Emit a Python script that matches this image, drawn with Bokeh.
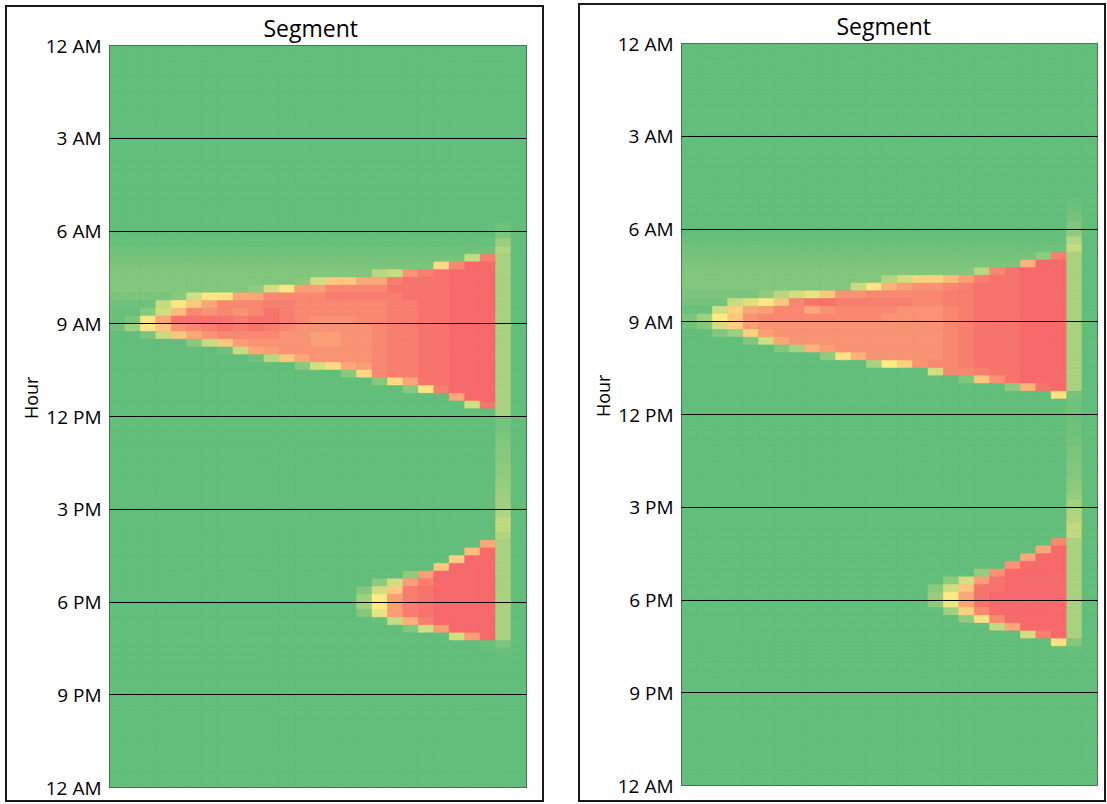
from bokeh.plotting import figure
from bokeh.models import Range1d, FixedTicker, LinearColorMapper, ColumnDataSource, Spacer
from bokeh.layouts import row, column
from bokeh.transform import transform
from bokeh.embed import file_html
from bokeh.resources import INLINE

# ---------------- data ----------------
N_COLS = 27          # segments
N_ROWS = 96          # 15-minute slots in a day
HOUR_TICKS = [0, 3, 6, 9, 12, 15, 18, 21, 24]
HOUR_LABELS = ["12 AM", "3 AM", "6 AM", "9 AM", "12 PM", "3 PM", "6 PM", "9 PM", "12 AM"]
Y_TITLE = "Hour"
X_TITLE = "Segment"

# cell levels: '.' = 0, 'A'..'Y' = 4..100 (step 4), lowercase = uppercase - 2
# rows not listed are all 0
LEFT_CELLS = {
    23: "." * 25 + "A.",
    24: "." * 25 + "B.",
    25: "a" * 25 + "e.",
    26: "A" * 25 + "g.",
    27: "b" * 23 + "HWf.",
    28: "B" * 21 + "NVYYf.",
    29: "c" * 17 + "GHUWXYYYf.",
    30: "c" * 12 + "CIPPSSWXXXYYYf.",
    31: "c" * 9 + "dIMTTVVVVXXXXYYYf.",
    32: "BBBB" + "CIMMSSVVVVWWWWWXXXYYYf.",
    33: "AAA" + "HMPSVVVWWVVVVVVWWXXYYYf.",
    34: "aa" + "CIQVUVUVXWVVVVVVWWXXYYYf.",
    35: "aBMSXXXXWXXWVUUUVVWWXXYYYf.",
    36: "AELPUVWXWXWVUUUUUVWWXXYYYf.",
    37: "..BHPSUVVVVUUTTUUVWWXXYYYf.",
    38: "." * 5 + "CHPTUUUUTTUUVWWXXYYYf.",
    39: "." * 7 + "AHSTUUUUUUVWWXXYYYf.",
    40: "." * 9 + "AGPSUUUUVWWXXYYYf.",
    41: "." * 12 + "CINSTVWWXXYYYf.",
    42: "." * 15 + "CNVWWXXYYYf.",
    43: "." * 17 + "CNSXXYYYf.",
    44: "." * 19 + "CMWYYYf.",
    45: "." * 22 + "SYYf.",
    46: "." * 23 + "IXf.",
    47: "." * 25 + "f.",
    48: "." * 25 + "b.",
    49: "." * 25 + "b.",
    50: "." * 25 + "B.",
    51: "." * 25 + "c.",
    52: "." * 25 + "C.",
    53: "." * 25 + "C.",
    54: "." * 25 + "d.",
    55: "." * 25 + "d.",
    56: "." * 25 + "D.",
    57: "." * 25 + "e.",
    58: "." * 25 + "E.",
    59: "." * 25 + "E.",
    60: "." * 25 + "F.",
    61: "." * 25 + "h.",
    62: "." * 25 + "h.",
    63: "." * 25 + "g.",
    64: "." * 24 + "Sf.",
    65: "." * 23 + "QYf.",
    66: "." * 22 + "OYYf.",
    67: "." * 21 + "PYYYf.",
    68: "." * 19 + "dTYYYYf.",
    69: "." * 17 + "dITWYYYYf.",
    70: "." * 16 + "cIPWXYYYYf.",
    71: "." * 16 + "EmTWXYYYYf.",
    72: "." * 16 + "EmTWXYYYYf.",
    73: "." * 16 + "ckTWXYYYYf.",
    74: "." * 17 + "aHRWYYYYf.",
    75: "." * 19 + "cITYYYf.",
    76: "." * 22 + "ITYf.",
    77: "." * 24 + "aB.",
    78: "." * 25 + "a.",
}

RIGHT_CELLS = {
    20: "." * 25 + "a.",
    21: "." * 25 + "A.",
    22: "." * 25 + "b.",
    23: "." * 25 + "c.",
    24: "." * 25 + "d.",
    25: "a" * 25 + "g.",
    26: "A" * 25 + "H.",
    27: "b" * 23 + "dWf.",
    28: "B" * 21 + "BRYYf.",
    29: "c" * 18 + "cGVXYYYf.",
    30: "c" * 12 + "cgIOOQTWXXYYYf.",
    31: "c" * 11 + "HMRTUUVWXXXYYYf.",
    32: "B" * 5 + "dGIkPUUVVVVVWWXXXYYYf.",
    33: "b" * 3 + "HJmPVXXWWWWWVVWWXXXYYYf.",
    34: "aa" + "IOSTVVSUVVVVUUUVWXXXYYYf.",
    35: "B" + "EmPUVVVVVVVVUUUUVWXXXYYYf.",
    36: "A" + "cIOTUUUUUUUUUUUUVWXXXYYYf.",
    37: ".." + "ceOTUUUUUUUUUUUVWXXXYYYf.",
    38: "...." + "cISUUUUUUUUUUVWXXXYYYf.",
    39: "." * 6 + "cfRTUUUUUUUVWXXXYYYf.",
    40: "." * 9 + "dnRUUUUUVWXXXYYYf.",
    41: "." * 12 + "fmOUVVWXXXYYYf.",
    42: "." * 16 + "IVVWXXYYYf.",
    43: "." * 18 + "cPUXYYYf.",
    44: "." * 21 + "dRXYf.",
    45: "." * 24 + "nb.",
    46: "." * 25 + "A.",
    47: "." * 25 + "A.",
    48: "." * 25 + "a.",
    49: "." * 25 + "A.",
    50: "." * 25 + "A.",
    51: "." * 25 + "b.",
    52: "." * 25 + "B.",
    53: "." * 25 + "B.",
    54: "." * 25 + "c.",
    55: "." * 25 + "c.",
    56: "." * 25 + "C.",
    57: "." * 25 + "d.",
    58: "." * 25 + "D.",
    59: "." * 25 + "E.",
    60: "." * 25 + "F.",
    61: "." * 25 + "g.",
    62: "." * 25 + "h.",
    63: "." * 25 + "h.",
    64: "." * 24 + "Vf.",
    65: "." * 23 + "SYf.",
    66: "." * 22 + "SYYf.",
    67: "." * 21 + "UYYYf.",
    68: "." * 19 + "DUYYYYf.",
    69: "." * 17 + "dITXYYYYf.",
    70: "." * 16 + "CIPXXYYYYf.",
    71: "." * 16 + "emSXYYYYYf.",
    72: "." * 16 + "CKSXYYYYYf.",
    73: "." * 17 + "EOVYYYYYf.",
    74: "." * 18 + "dnVYYYYf.",
    75: "." * 20 + "hSYYYf.",
    76: "." * 22 + "IWYf.",
    77: "." * 24 + "nc.",
    78: "." * 25 + "a.",
}

# 3-colour scale anchors (low / mid / high)
LOW_RGB = (0x63, 0xBE, 0x7B)
MID_RGB = (0xFF, 0xEB, 0x84)
HIGH_RGB = (0xF8, 0x69, 0x6B)


def cell_value(ch):
    if ch == ".":
        return 0.0
    if ch.isupper():
        return (ord(ch) - 64) * 4.0
    return (ord(ch) - 96) * 4.0 - 2.0


def mix(a, b, t):
    return tuple(int(round(a[i] + (b[i] - a[i]) * t)) for i in range(3))


palette = []
for i in range(101):
    if i <= 50:
        rgb = mix(LOW_RGB, MID_RGB, i / 50.0)
    else:
        rgb = mix(MID_RGB, HIGH_RGB, (i - 50) / 50.0)
    palette.append("#%02x%02x%02x" % rgb)

mapper = LinearColorMapper(palette=palette, low=0, high=100)


def grid_source(cells):
    xs, ys, vs = [], [], []
    for r in range(N_ROWS):
        s = cells.get(r, "").ljust(N_COLS, ".")[:N_COLS]
        for c, ch in enumerate(s):
            xs.append(c + 0.5)
            ys.append((r + 0.5) * 24.0 / N_ROWS)
            vs.append(cell_value(ch))
    return ColumnDataSource(dict(x=xs, y=ys, v=vs))


def make_panel(cells, width, height, mbl, mbr, mbt, mbb, title_offset, title_standoff):
    p = figure(width=width, height=height,
               x_range=Range1d(0, N_COLS), y_range=Range1d(24, 0),
               x_axis_location=None, output_backend="svg", toolbar_location=None,
               min_border_left=mbl, min_border_right=mbr,
               min_border_top=mbt, min_border_bottom=mbb)
    p.styles = {"border": "2px solid #1a1a1a"}
    p.rect(x="x", y="y", width=1, height=24.0 / N_ROWS, source=grid_source(cells),
           fill_color=transform("v", mapper), line_color=transform("v", mapper),
           line_width=0.6)

    p.title.text = X_TITLE
    p.title.align = "left"
    p.title.offset = title_offset
    p.title.text_font = "Open Sans"
    p.title.text_font_size = "23px"
    p.title.text_font_style = "normal"
    p.title.text_color = "#000000"
    p.title.standoff = title_standoff

    ax = p.yaxis[0]
    ax.ticker = FixedTicker(ticks=HOUR_TICKS)
    ax.major_label_overrides = {t: lab for t, lab in zip(HOUR_TICKS, HOUR_LABELS)}
    ax.major_label_text_font = "Open Sans"
    ax.major_label_text_font_size = "19px"
    ax.major_label_text_color = "#000000"
    ax.major_label_standoff = 2
    ax.major_tick_line_color = None
    ax.minor_tick_line_color = None
    ax.axis_line_color = None
    # leading no-break spaces lift the rotated title above the frame's middle, as in the original
    ax.axis_label = "\u00a0" * 8 + Y_TITLE
    ax.axis_label_text_font = "Open Sans"
    ax.axis_label_text_font_size = "18px"
    ax.axis_label_text_font_style = "normal"
    ax.axis_label_text_color = "#000000"
    ax.axis_label_standoff = 0

    p.xgrid.visible = False
    p.ygrid.ticker = FixedTicker(ticks=HOUR_TICKS)
    p.ygrid.grid_line_color = "#000000"
    p.ygrid.grid_line_width = 1
    p.ygrid.level = "overlay"

    p.outline_line_color = "#333333"
    p.outline_line_width = 1
    p.background_fill_color = "#63BE7B"
    p.border_fill_color = "#ffffff"
    return p


left = make_panel(LEFT_CELLS, 539, 797, 102, 20, 37, 17, 154, 4)
right = make_panel(RIGHT_CELLS, 528, 799, 101, 11, 37, 19, 155, 4)

layout = row(Spacer(width=5, height=10),
             column(Spacer(width=10, height=5), left),
             Spacer(width=34, height=10),
             column(Spacer(width=10, height=3), right))

open("out.html", "w").write(file_html(layout, INLINE))
